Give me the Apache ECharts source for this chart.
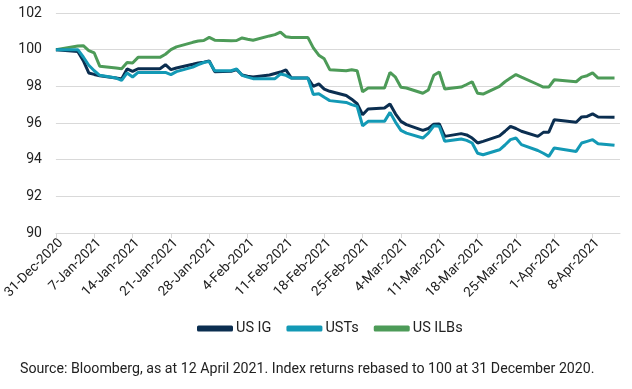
<!DOCTYPE html>
<html>
<head>
<meta charset="utf-8">
<script src="https://cdn.jsdelivr.net/npm/echarts@6/dist/echarts.min.js"></script>
<style>
html,body{margin:0;padding:0;background:#fff;}
#chart{width:632px;height:389px;}
</style>
</head>
<body>
<div id="chart"></div>
<script>
// Trading dates (Bloomberg index closes)
const tradeDates = [
  '2020-12-31',
  '2021-01-04','2021-01-05','2021-01-06','2021-01-07','2021-01-08',
  '2021-01-11','2021-01-12','2021-01-13','2021-01-14','2021-01-15',
  '2021-01-19','2021-01-20','2021-01-21','2021-01-22',
  '2021-01-25','2021-01-26','2021-01-27','2021-01-28','2021-01-29',
  '2021-02-01','2021-02-02','2021-02-03','2021-02-04','2021-02-05',
  '2021-02-08','2021-02-09','2021-02-10','2021-02-11','2021-02-12',
  '2021-02-15','2021-02-16','2021-02-17','2021-02-18','2021-02-19',
  '2021-02-22','2021-02-23','2021-02-24','2021-02-25','2021-02-26',
  '2021-03-01','2021-03-02','2021-03-03','2021-03-04','2021-03-05',
  '2021-03-08','2021-03-09','2021-03-10','2021-03-11','2021-03-12',
  '2021-03-15','2021-03-16','2021-03-17','2021-03-18','2021-03-19',
  '2021-03-22','2021-03-23','2021-03-24','2021-03-25','2021-03-26',
  '2021-03-29','2021-03-30','2021-03-31','2021-04-01',
  '2021-04-05','2021-04-06','2021-04-07','2021-04-08','2021-04-09',
  '2021-04-12'
];

const usIG = [
  100.00,
  99.90, 99.40, 98.73, 98.65, 98.58,
  98.45, 98.40, 98.95, 98.82, 98.96,
  98.96, 99.18, 98.91, 99.00,
  99.20, 99.27, 99.32, 99.38, 98.80,
  98.82, 98.91, 98.62, 98.55, 98.51,
  98.62, 98.70, 98.78, 98.90, 98.45,
  98.45, 98.00, 98.13, 97.85, 97.73,
  97.50, 97.30, 97.05, 96.45, 96.76,
  96.82, 97.04, 96.50, 96.09, 95.91,
  95.60, 95.70, 95.93, 95.95, 95.27,
  95.42, 95.35, 95.18, 94.91, 95.00,
  95.30, 95.55, 95.82, 95.70, 95.55,
  95.27, 95.49, 95.50, 96.18,
  96.04, 96.33, 96.36, 96.50, 96.33,
  96.32
];

const usts = [
  100.00,
  100.00, 99.60, 99.15, 98.85, 98.60,
  98.45, 98.33, 98.73, 98.51, 98.76,
  98.76, 98.76, 98.64, 98.80,
  99.05, 99.18, 99.30, 99.36, 98.85,
  98.85, 98.95, 98.60, 98.50, 98.42,
  98.42, 98.42, 98.67, 98.60, 98.45,
  98.45, 97.55, 97.60, 97.40, 97.22,
  97.12, 97.00, 96.91, 95.85, 96.09,
  96.09, 96.58, 96.05, 95.60, 95.45,
  95.18, 95.45, 95.85, 95.82, 95.00,
  95.13, 95.05, 94.91, 94.35, 94.27,
  94.54, 94.80, 95.09, 95.18, 94.82,
  94.50, 94.35, 94.18, 94.64,
  94.45, 94.91, 95.00, 95.09, 94.87,
  94.78
];

const usILBs = [
  100.00,
  100.20, 100.22, 99.95, 99.82, 99.10,
  99.00, 98.96, 99.30, 99.27, 99.58,
  99.58, 99.75, 100.00, 100.15,
  100.40, 100.47, 100.50, 100.67, 100.52,
  100.48, 100.50, 100.64, 100.57, 100.51,
  100.75, 100.82, 100.96, 100.70, 100.67,
  100.67, 100.10, 99.70, 99.50, 98.91,
  98.85, 98.90, 98.85, 97.70, 97.91,
  97.91, 98.76, 98.50, 97.95, 97.91,
  97.62, 97.80, 98.60, 98.78, 97.85,
  97.96, 98.10, 98.25, 97.62, 97.58,
  98.00, 98.25, 98.45, 98.64, 98.50,
  98.10, 97.96, 97.96, 98.36,
  98.25, 98.50, 98.58, 98.73, 98.45,
  98.45
];

const seriesNames = ['US IG', 'USTs', 'US ILBs'];
const axisStart = '2020-12-31';
const axisEnd = '2021-04-13';
const yMin = 90, yMax = 102, yStep = 2;
const sourceNote = 'Source: Bloomberg, as at 12 April 2021. Index returns rebased to 100 at 31 December 2020.';

// Build a calendar-day category axis (date axis, weekly labels)
const MONTHS = ['Jan','Feb','Mar','Apr','May','Jun','Jul','Aug','Sep','Oct','Nov','Dec'];
function parse(s){ const p = s.split('-').map(Number); return Date.UTC(p[0], p[1]-1, p[2]); }
function fmt(t){ const d = new Date(t); return d.getUTCDate() + '-' + MONTHS[d.getUTCMonth()] + '-' + d.getUTCFullYear(); }
const DAY = 86400000;
const t0 = parse(axisStart), t1 = parse(axisEnd);
const categories = [];
for (let t = t0; t <= t1; t += DAY) categories.push(fmt(t));
function toCalendar(vals){
  const out = new Array(categories.length).fill(null);
  tradeDates.forEach((s, i) => { out[Math.round((parse(s) - t0) / DAY)] = vals[i]; });
  return out;
}

const colors = ['#0b2e50', '#1399b5', '#4d9b58'];
const FONT = 'Roboto';

const chart = echarts.init(document.getElementById('chart'), null, {renderer: 'canvas'});
chart.setOption({
  animation: false,
  color: colors,
  textStyle: {fontFamily: FONT},
  grid: {left: 54, right: 12, top: 13, bottom: 156, containLabel: false},
  title: {
    text: sourceNote,
    left: 15, top: 357,
    textStyle: {fontFamily: FONT, fontSize: 14.2, fontWeight: 'normal', color: '#222'}
  },
  legend: {
    data: seriesNames,
    left: 192, top: 316,
    icon: 'roundRect',
    itemWidth: 36, itemHeight: 6, itemGap: 15,
    textStyle: {fontFamily: FONT, fontSize: 14.5, color: '#222', padding: [0, 0, 0, -2]}
  },
  xAxis: {
    type: 'category',
    data: categories,
    boundaryGap: false,
    axisLine: {lineStyle: {color: '#d9d9d9', width: 1}},
    axisTick: {show: true, length: 5, interval: (i) => i % 7 === 0, lineStyle: {color: '#d9d9d9'}},
    axisLabel: {
      interval: (i) => i % 7 === 0,
      rotate: 45, margin: 3,
      verticalAlign: 'top',
      fontFamily: FONT, fontSize: 13.5, color: '#222'
    },
    splitLine: {show: false}
  },
  yAxis: {
    type: 'value',
    min: yMin, max: yMax, interval: yStep,
    axisLine: {show: false},
    axisTick: {show: false},
    axisLabel: {fontFamily: FONT, fontSize: 14, color: '#222', margin: 14},
    splitLine: {lineStyle: {color: '#d9d9d9', width: 1}}
  },
  series: [
    {name: seriesNames[0], type: 'line', data: toCalendar(usIG), connectNulls: true, showSymbol: false, symbol: 'none', lineStyle: {width: 3}, z: 3},
    {name: seriesNames[1], type: 'line', data: toCalendar(usts), connectNulls: true, showSymbol: false, symbol: 'none', lineStyle: {width: 3}, z: 4},
    {name: seriesNames[2], type: 'line', data: toCalendar(usILBs), connectNulls: true, showSymbol: false, symbol: 'none', lineStyle: {width: 3}, z: 2}
  ]
});
</script>
</body>
</html>
